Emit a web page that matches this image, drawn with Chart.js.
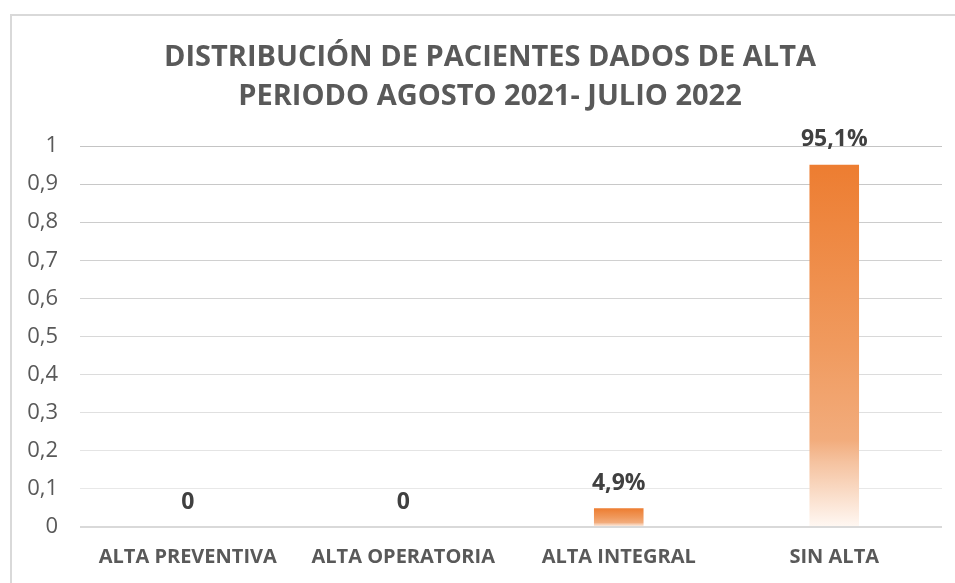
<!DOCTYPE html>
<html>
<head>
<meta charset="utf-8">
<script src="https://cdn.jsdelivr.net/npm/chart.js@4/dist/chart.umd.min.js"></script>
<style>
  html, body { margin: 0; padding: 0; background: #fff; }
  #frame {
    position: absolute; left: 10px; top: 14px; width: 960px; height: 600px;
    border-left: 2px solid #d9d9d9; border-top: 2px solid #d9d9d9; box-sizing: border-box;
  }
  #wrap { position: absolute; left: 0; top: 0; width: 955px; height: 583px; }
</style>
</head>
<body>
<div id="frame"></div>
<div id="wrap"><canvas id="altaChart"></canvas></div>
<script>
const categories = ['ALTA PREVENTIVA', 'ALTA OPERATORIA', 'ALTA INTEGRAL', 'SIN ALTA'];
const values = [0, 0, 0.049, 0.951];
const titleLines = ['DISTRIBUCIÓN DE PACIENTES DADOS DE ALTA', 'PERIODO AGOSTO 2021- JULIO 2022'];

const fontFamily = "'Open Sans', 'Liberation Sans', sans-serif";

function fmtLabel(v) {
  if (v === 0) return '0';
  return (v * 100).toFixed(1).replace('.', ',') + '%';
}

// gradient from bar top (dark orange) down to base (white)
function barFill(context) {
  const chart = context.chart;
  if (!chart.chartArea) return '#ED7D31';
  const y = chart.scales.y;
  const v = context.raw || 0;
  const top = y.getPixelForValue(v);
  const base = y.getPixelForValue(0);
  if (base - top < 1) return '#ED7D31';
  const g = chart.ctx.createLinearGradient(0, top, 0, base);
  g.addColorStop(0, '#ED7D31');
  g.addColorStop(0.5, '#F09A5E');
  g.addColorStop(0.76, '#F2AC7C');
  g.addColorStop(0.82, '#F5C29F');
  g.addColorStop(1, '#FFF8F3');
  return g;
}

const valueLabels = {
  id: 'valueLabels',
  afterDatasetsDraw(chart) {
    const ctx = chart.ctx;
    const meta = chart.getDatasetMeta(0);
    ctx.save();
    ctx.font = "bold 23px " + fontFamily;
    ctx.fillStyle = '#404040';
    ctx.textAlign = 'center';
    ctx.textBaseline = 'middle';
    meta.data.forEach((bar, i) => {
      ctx.fillText(fmtLabel(values[i]), bar.x, bar.y - 25);
    });
    ctx.restore();
  }
};

// title sits a bit right of the canvas centre, like the original
const chartTitle = {
  id: 'chartTitle',
  afterDraw(chart) {
    const ctx = chart.ctx;
    ctx.save();
    ctx.font = "bold 29px " + fontFamily;
    ctx.fillStyle = '#595959';
    ctx.textAlign = 'center';
    ctx.textBaseline = 'middle';
    titleLines.forEach((line, i) => {
      ctx.fillText(line, 490, 58 + i * 39);
    });
    ctx.restore();
  }
};

const gridColors = ['#d9d9d9', '#e8e8e8', '#e4e4e4', '#e0e0e0', '#dcdcdc', '#d8d8d8', '#d4d4d4', '#d0d0d0', '#cccccc', '#c8c8c8', '#c4c4c4'];

const ctx = document.getElementById('altaChart').getContext('2d');
const altaChart = new Chart(ctx, {
  type: 'bar',
  data: {
    labels: categories,
    datasets: [{
      data: values,
      backgroundColor: barFill,
      barPercentage: 0.23,
      categoryPercentage: 1
    }]
  },
  options: {
    responsive: true,
    maintainAspectRatio: false,
    animation: false,
    layout: { padding: { left: 0, right: 13, top: 146, bottom: 14 } },
    plugins: {
      legend: { display: false },
      tooltip: { enabled: false },
      title: { display: false }
    },
    scales: {
      x: {
        afterFit(scale) { scale.height = 42; },
        grid: { display: false, drawTicks: false },
        border: { display: false },
        ticks: {
          color: '#595959',
          font: { family: fontFamily, size: 20, weight: 'bold' },
          padding: 18,
          maxRotation: 0
        }
      },
      y: {
        min: 0,
        max: 1,
        afterFit(scale) { scale.width = 80; },
        grid: {
          drawTicks: false,
          color: (c) => gridColors[c.index] || '#d9d9d9',
          lineWidth: (c) => c.index === 0 ? 2 : 1
        },
        border: { display: false },
        ticks: {
          stepSize: 0.1,
          padding: 22,
          color: '#595959',
          font: { family: fontFamily, size: 22 },
          callback: (v) => (Math.round(v * 10) / 10).toString().replace('.', ',')
        }
      }
    }
  },
  plugins: [valueLabels, chartTitle]
});
</script>
</body>
</html>
